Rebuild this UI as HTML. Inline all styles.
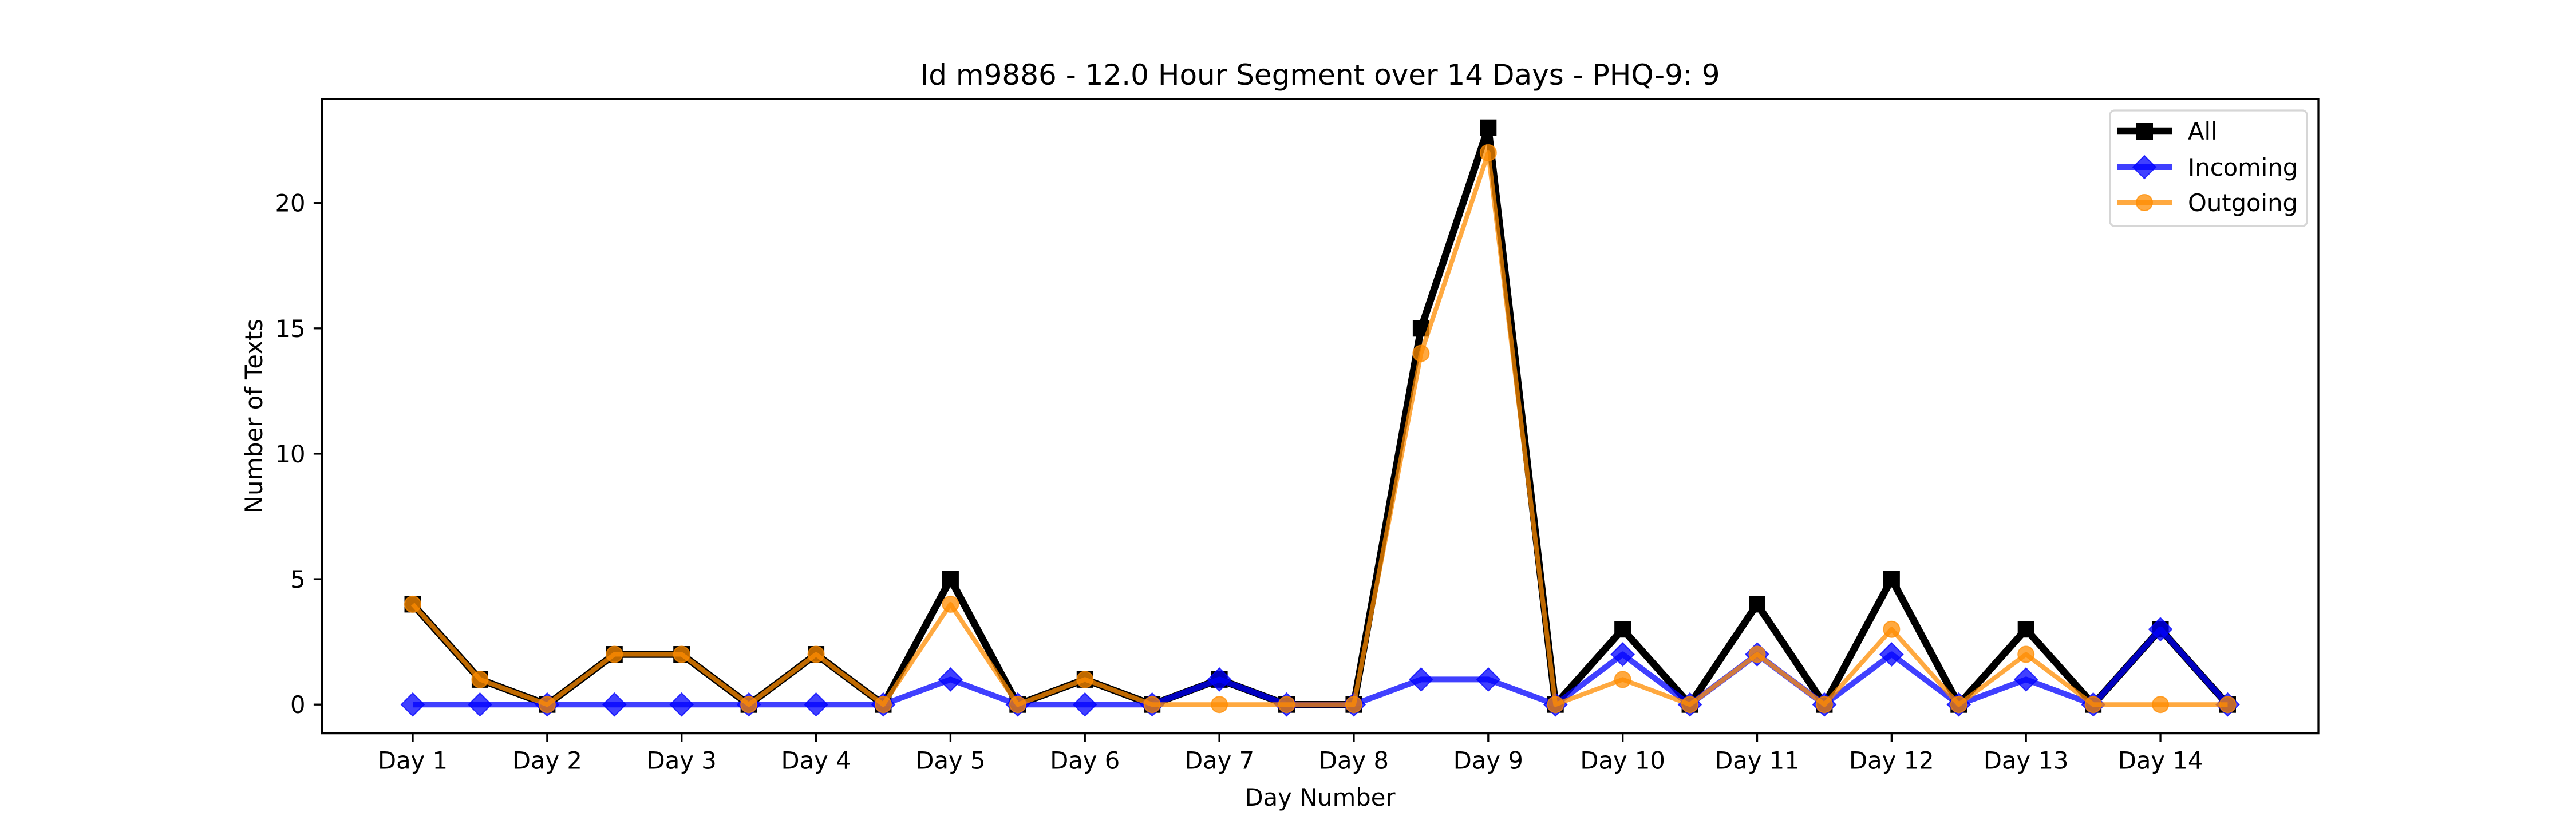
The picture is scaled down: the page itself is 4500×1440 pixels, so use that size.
<!DOCTYPE html>
<html><head><meta charset="utf-8"><style>
html,body{margin:0;padding:0;background:#fff;}
svg{display:block;font-family:"DejaVu Sans","Liberation Sans",sans-serif;}
</style></head><body>
<svg id="chart" width="4500" height="1440" viewBox="0 0 4500 1440" xmlns="http://www.w3.org/2000/svg">
<rect width="4500" height="1440" fill="#fff"/>
<text x="2306" y="148" font-size="50" text-anchor="middle">Id m9886 - 12.0 Hour Segment over 14 Days - PHQ-9: 9</text>
<g id="plot"></g>
<rect x="562.5" y="172.8" width="3487.5" height="1108.8" fill="none" stroke="#000" stroke-width="3.3"/>
<text x="2306" y="1408" font-size="41.7" text-anchor="middle">Day Number</text>
<text transform="translate(458,727) rotate(-90)" font-size="41.7" text-anchor="middle">Number of Texts</text>
<g>
<rect x="3686" y="193" width="344" height="202" rx="8" fill="#fff" fill-opacity="0.8" stroke="#d6d6d6" stroke-width="3.3"/>
<line x1="3698" y1="229" x2="3794" y2="229" stroke="#000" stroke-width="12.5"/>
<rect x="3732" y="215" width="29" height="29" fill="#000"/>
<text x="3822" y="244" font-size="41.7">All</text>
<line x1="3698" y1="292" x2="3794" y2="292" stroke="rgba(0,0,255,0.75)" stroke-width="10"/>
<polygon points="3746,272 3766,292 3746,312 3726,292" fill="rgba(0,0,255,0.75)" stroke="rgba(0,0,255,0.75)" stroke-width="2"/>
<text x="3822" y="307" font-size="41.7">Incoming</text>
<line x1="3698" y1="354" x2="3794" y2="354" stroke="rgba(255,140,0,0.75)" stroke-width="8"/>
<circle cx="3746" cy="354" r="14" fill="rgba(255,140,0,0.75)" stroke="rgba(255,140,0,0.75)" stroke-width="2"/>
<text x="3822" y="369" font-size="41.7">Outgoing</text>
</g>
</svg>
<script>
const allVals = [4,1,0,2,2,0,2,0,5,0,1,0,1,0,0,15,23,0,3,0,4,0,5,0,3,0,3,0];
const incomingVals = [0,0,0,0,0,0,0,0,1,0,0,0,1,0,0,1,1,0,2,0,2,0,2,0,1,0,3,0];
const outgoingVals = [4,1,0,2,2,0,2,0,4,0,1,0,0,0,0,14,22,0,1,0,2,0,3,0,2,0,0,0];
const xTickLabels = ["Day 1","Day 2","Day 3","Day 4","Day 5","Day 6","Day 7","Day 8","Day 9","Day 10","Day 11","Day 12","Day 13","Day 14"];
const yTicks = [0,5,10,15,20];

const NS="http://www.w3.org/2000/svg";
const L=562.5,R=4050,T=172.8,B=1281.6;
const n=allVals.length;
const maxV=Math.max(...allVals,...incomingVals,...outgoingVals);
const xmin=-(n-1)*0.05,xmax=(n-1)*1.05;
const ymin=-maxV*0.05,ymax=maxV*1.05;
const xs=i=>L+(i-xmin)/(xmax-xmin)*(R-L);
const ys=v=>B-(v-ymin)/(ymax-ymin)*(B-T);
const plot=document.getElementById('plot');
const svg=document.getElementById('chart');
function mk(tag,attrs,parent){const e=document.createElementNS(NS,tag);for(const k in attrs)e.setAttribute(k,attrs[k]);(parent||plot).appendChild(e);return e;}

// ticks
yTicks.forEach(v=>{
  const y=ys(v);
  const t=mk('line',{x1:L-14.6,x2:L,y1:y,y2:y,stroke:'#000','stroke-width':3.3},svg);
  
  
  const lb=mk('text',{x:L-29,y:y+15,'font-size':41.7,'text-anchor':'end'},svg);
  lb.textContent=v;
  
  
});
xTickLabels.forEach((s,k)=>{
  const x=xs(k*2);
  const t=mk('line',{x1:x,x2:x,y1:B,y2:B+14.6,stroke:'#000','stroke-width':3.3},svg);
  
  
  const lb=mk('text',{x:x,y:B+62,'font-size':41.7,'text-anchor':'middle'},svg);
  lb.textContent=s;
  
  
});

function series(vals,name,color,lw,marker){
  const g=mk('g',{});
  
  
  const pts=vals.map((v,i)=>xs(i)+','+ys(v)).join(' ');
  const pl=mk('polyline',{points:pts,fill:'none',stroke:color,'stroke-width':lw,'stroke-linejoin':'round'},g);
  
  
  vals.forEach((v,i)=>{
    const x=xs(i),y=ys(v);let m;
    if(marker==='square') m=mk('rect',{x:x-14.5,y:y-14.5,width:29,height:29,fill:color},g);
    else if(marker==='diamond') m=mk('polygon',{points:`${x},${y-20} ${x+20},${y} ${x},${y+20} ${x-20},${y}`,fill:color,stroke:color,'stroke-width':2},g);
    else m=mk('circle',{cx:x,cy:y,r:14,fill:color,stroke:color,'stroke-width':2},g);
    
    
  });
}
series(allVals,'all','#000',12.5,'square');
series(incomingVals,'incoming','rgba(0,0,255,0.75)',10,'diamond');
series(outgoingVals,'outgoing','rgba(255,140,0,0.75)',8,'circle');
</script>
</body></html>
